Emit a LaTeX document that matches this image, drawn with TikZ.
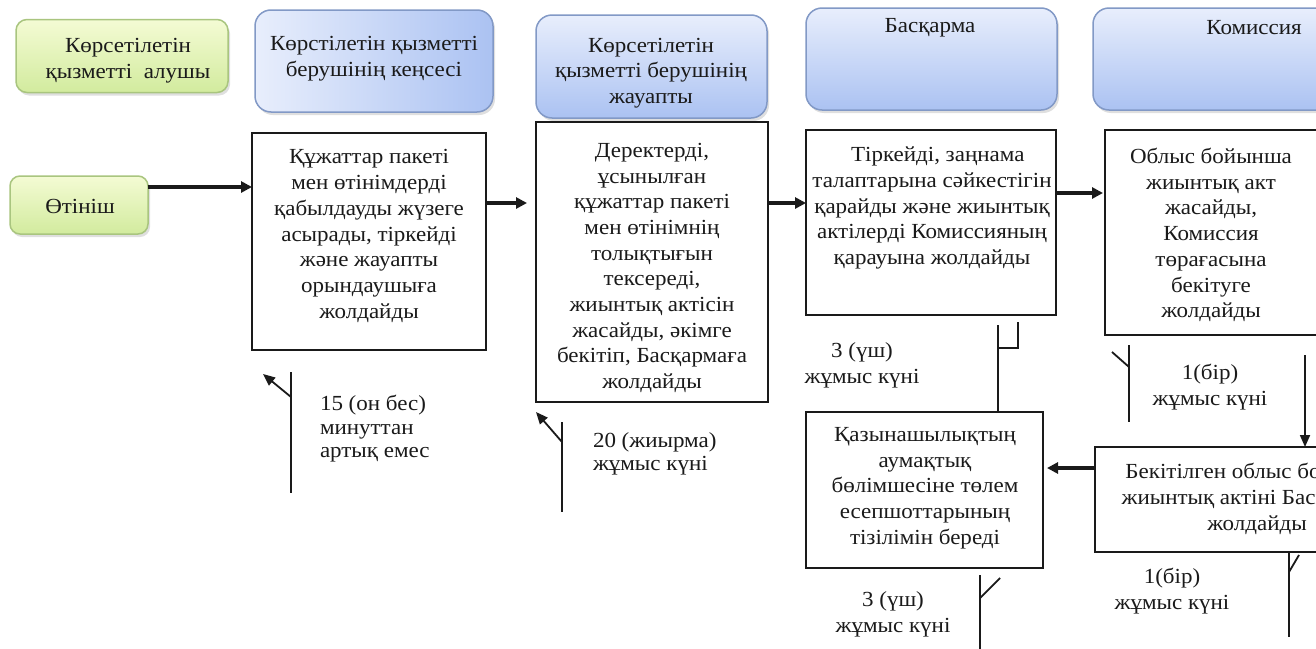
\documentclass[tikz,border=0pt]{standalone}
\usepackage{fontspec}
\setmainfont{Liberation Serif}[FakeStretch=1.07]
\usetikzlibrary{arrows.meta,shadows,calc}
\definecolor{grA}{HTML}{F4FBD4}
\definecolor{grB}{HTML}{D2EB9E}
\definecolor{grD}{HTML}{A9C57F}
\definecolor{blA}{HTML}{E8EEFC}
\definecolor{blB}{HTML}{ABC2F2}
\definecolor{blD}{HTML}{8299C6}
\definecolor{ink}{HTML}{1A1A1A}
\begin{document}
\begin{tikzpicture}[x=1pt,y=-1pt,
  every node/.style={inner sep=0pt, outer sep=0pt},
  txt/.style={font=\fontsize{21.5}{25.7}\selectfont, text=ink, align=center},
  ann/.style={font=\fontsize{21.5}{26}\selectfont, text=ink, align=center},
  annl/.style={font=\fontsize{21.5}{23.5}\selectfont, text=ink, align=left},
  shd/.style={drop shadow={shadow xshift=2pt, shadow yshift=-3pt, opacity=0.25}},
  gbox/.style={shd, draw=grD, line width=1.5, rounded corners=11, top color=grA, bottom color=grB},
  bbox/.style={shd, draw=blD, line width=1.5, rounded corners=16, top color=blA, bottom color=blB},
  bboxh/.style={shd, draw=blD, line width=1.5, rounded corners=16, left color=blA, right color=blB},
  pbox/.style={draw=ink, line width=2, fill=white},
  bigarrow/.style={line width=4, -{Triangle[length=11,width=11]}, draw=ink},
  thinline/.style={line width=1.8, draw=ink},
  thinarrow/.style={line width=1.8, draw=ink, -{Triangle[length=12,width=10]}},
]
\useasboundingbox (0,0) rectangle (1316,648);
\clip (0,0) rectangle (1316,648);
\fill[white] (0,0) rectangle (1316,648);

% header lanes
\node[gbox, minimum width=212, minimum height=73] (h1) at (122,56) {};
\node[bboxh, minimum width=238, minimum height=102] (h2) at (374,61) {};
\node[bbox, minimum width=231, minimum height=103] (h3) at (651.5,66.5) {};
\node[bbox, minimum width=251, minimum height=102] (h4) at (931.5,59) {};
\node[bbox, minimum width=322, minimum height=102] (h5) at (1254,59) {};

\node[txt] (h1t) at (128,61) {Көрсетілетін\\қызметті\ \ алушы};
\node[txt] (h2t) at (374,59) {Көрстілетін қызметті\\берушінің кеңсесі};
\node[txt] (h3t) at (651,73) {Көрсетілетін\\қызметті\ берушінің\\жауапты};
\node[txt] (h4t) at (930,28) {Басқарма};
\node[txt] (h5t) at (1254,28) {Комиссия};

% start
\node[gbox, rounded corners=10, minimum width=138, minimum height=58] (otinish) at (79,205) {};
\node[txt] (otinisht) at (80,206) {Өтініш};

% process boxes
\node[pbox, minimum width=234, minimum height=217] (b1) at (369,241.5) {};
\node[pbox, minimum width=232, minimum height=280] (b2) at (652,262) {};
\node[pbox, minimum width=250, minimum height=185] (b3) at (931,222.5) {};
\node[pbox, minimum width=220, minimum height=205] (b4) at (1215,232.5) {};
\node[pbox, minimum width=324, minimum height=105] (b5) at (1257,499.5) {};
\node[pbox, minimum width=237, minimum height=156] (b6) at (924.5,490) {};

\node[txt] (b1t) at (369,236) {Құжаттар пакеті\\мен өтінімдерді\\қабылдауды жүзеге\\асырады, тіркейді\\және жауапты\\орындаушыға\\жолдайды};
\node[txt] (b2t) at (652,268) {Деректерді,\\ұсынылған\\құжаттар пакеті\\мен өтінімнің\\толықтығын\\тексереді,\\жиынтық\ актісін\\жасайды, әкімге\\бекітіп, Басқармаға\\жолдайды};
\node[txt] (b3t) at (932,208) {\ \ Тіркейді, заңнама\\талаптарына сәйкестігін\\қарайды және жиынтық\\актілерді Комиссияның\\қарауына жолдайды};
\node[txt] (b4t) at (1211,235) {Облыс бойынша\\жиынтық\ акт\\жасайды,\\Комиссия\\төрағасына\\бекітуге\\жолдайды};
\node[txt] (b5t) at (1257,499) {Бекітілген\ облыс бойынша\\жиынтық\ актіні Басқармаға\\жолдайды};
\node[txt] (b6t) at (925,488) {Қазынашылықтың\\аумақтық\\бөлімшесіне төлем\\есепшоттарының\\тізілімін\ береді};

% main arrows
\draw[bigarrow] ([yshift=-11pt]otinish.north east) coordinate (a0) -- (a0 -| b1.west);
\draw[bigarrow] ([yshift=-70pt]b1.north east) coordinate (a1) -- ([xshift=-9pt]a1 -| b2.west);
\draw[bigarrow] ([yshift=-81pt]b2.north east) coordinate (a2) -- (a2 -| b3.west);
\draw[bigarrow] ([yshift=-63pt]b3.north east) coordinate (a3) -- ([xshift=-2pt]a3 -| b4.west);
\draw[bigarrow] ([yshift=-21pt]b5.north west) coordinate (a4) -- ([xshift=4pt]a4 -| b6.east);

% time annotations
\node[annl, anchor=west] (t1) at (320,429) {15 (он бес)\\минуттан\\артық емес};
\node[annl, anchor=west] (t2) at (593,454) {20 (жиырма)\\жұмыс күні};
\node[ann] (t3) at (862,365) {3 (үш)\\жұмыс\ күні};
\node[ann] (t4) at (1210,387) {1(бір)\\жұмыс күні};
\node[ann] (t5) at (1172,591) {1(бір)\\жұмыс күні};
\node[ann] (t6) at (893,614) {3 (үш)\\жұмыс күні};

% brackets
\coordinate (p1a) at (291,372); \coordinate (p1b) at (291,493);
\coordinate (p1c) at (291,397); \coordinate (p1d) at (263,374);
\draw[thinline] (p1a) -- (p1b);
\draw[thinarrow] (p1c) -- (p1d);

\coordinate (p2a) at (562,422); \coordinate (p2b) at (562,512);
\coordinate (p2c) at (562,442); \coordinate (p2d) at (536,412);
\draw[thinline] (p2a) -- (p2b);
\draw[thinarrow] (p2c) -- (p2d);

\coordinate (p3a) at (998,325); \coordinate (p3b) at (998,348);
\coordinate (p3c) at (1018,348); \coordinate (p3d) at (1018,322);
\draw[thinline] (b6.north -| p3a) -- (p3a);
\draw[thinline] (p3b) -- (p3c) -- (p3d);

\coordinate (p4a) at (1129,345); \coordinate (p4b) at (1129,422);
\coordinate (p4c) at (1129,367); \coordinate (p4d) at (1112,352);
\draw[thinline] (p4a) -- (p4b);
\draw[thinline] (p4c) -- (p4d);

\coordinate (p5a) at (1305,355);
\draw[thinarrow] (p5a) -- (p5a |- b5.north);

\coordinate (p6a) at (1289,637); \coordinate (p6c) at (1289,572); \coordinate (p6d) at (1299,555);
\draw[thinline] (b5.south -| p6a) -- (p6a);
\draw[thinline] (p6c) -- (p6d);

\coordinate (p7a) at (980,575); \coordinate (p7b) at (980,660);
\coordinate (p7c) at (980,598); \coordinate (p7d) at (1000,578);
\draw[thinline] (p7a) -- (p7b);
\draw[thinline] (p7c) -- (p7d);
\end{tikzpicture}
\end{document}
